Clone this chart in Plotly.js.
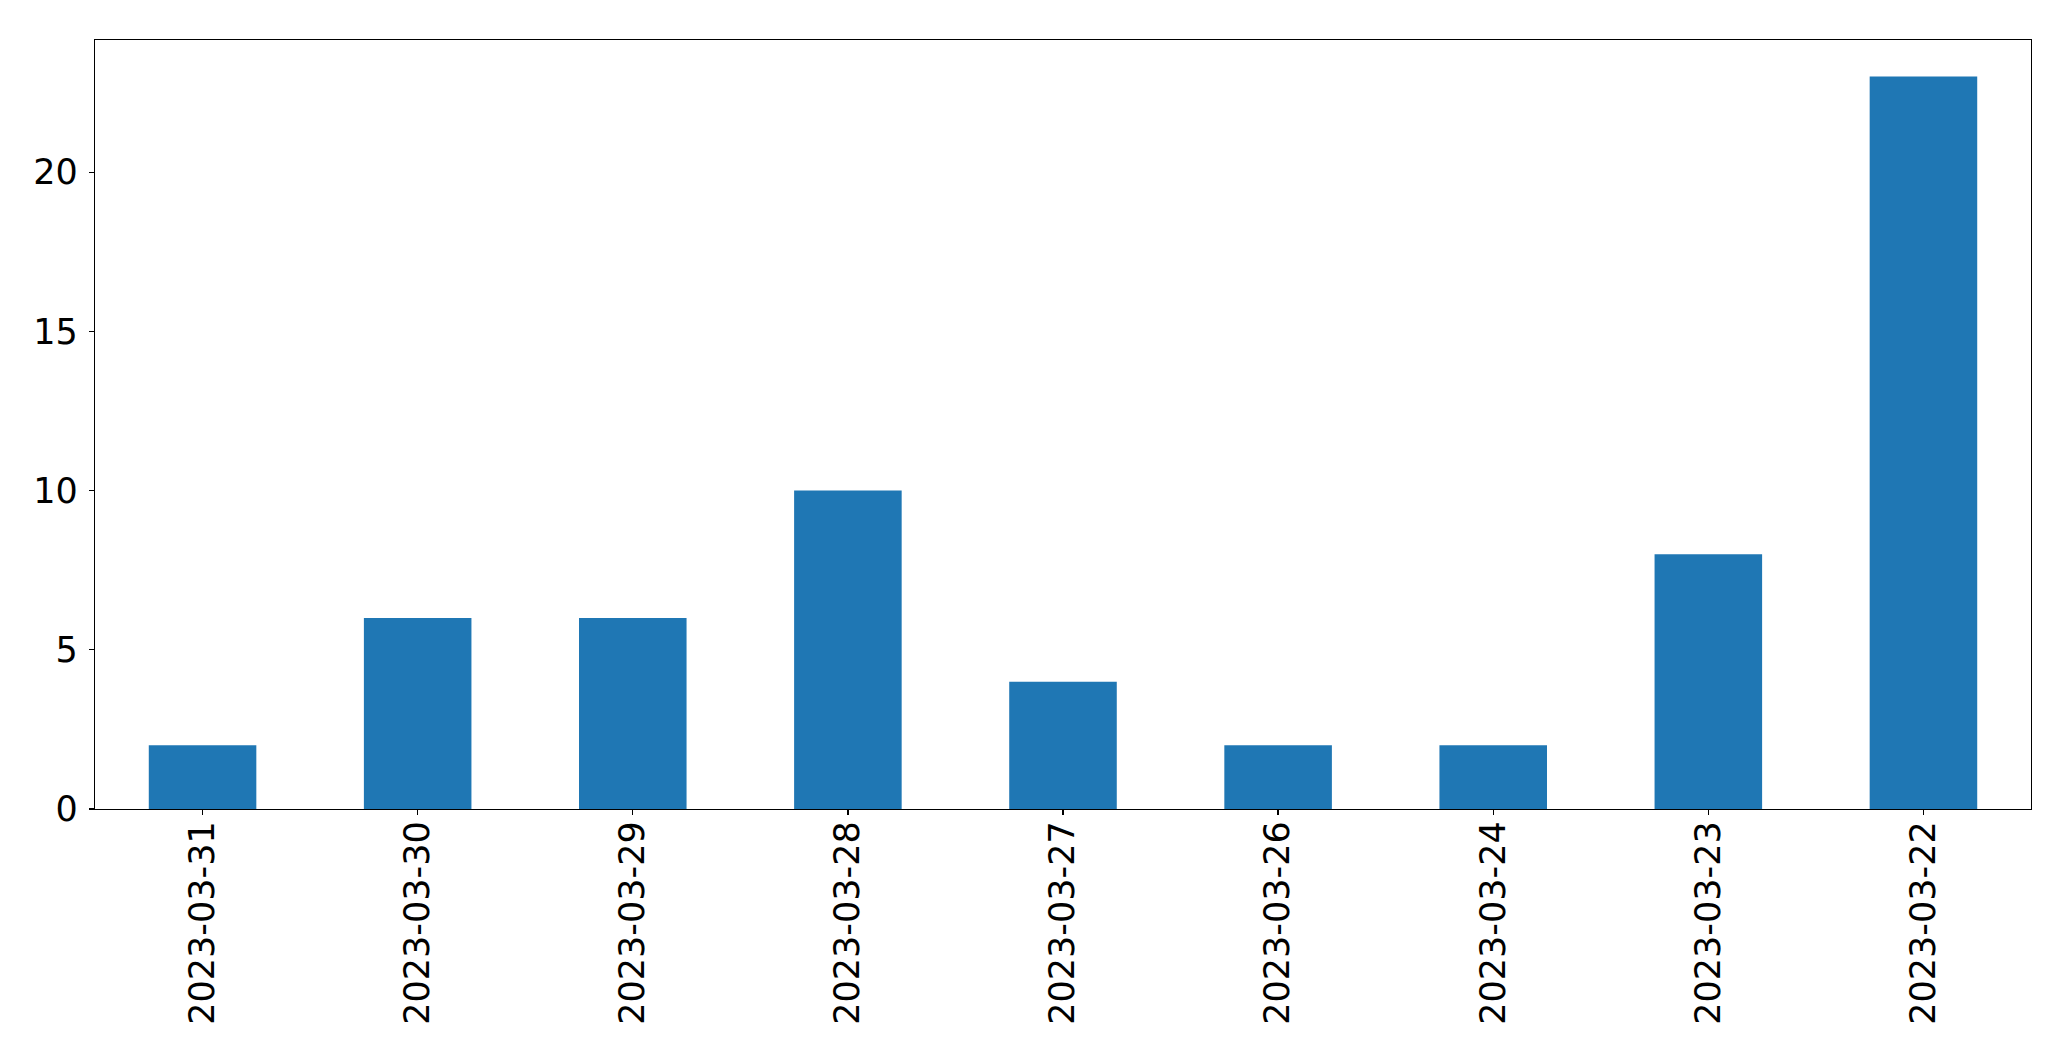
<!DOCTYPE html>
<html>
<head>
<meta charset="utf-8">
<script src="https://cdn.plot.ly/plotly-3.0.1.min.js"></script>
<style>html,body{margin:0;padding:0;background:#fff;}#chart{width:2071px;height:1061px;}</style>
</head>
<body>
<div id="chart"></div>
<script>
const categories = ["2023-03-31","2023-03-30","2023-03-29","2023-03-28","2023-03-27","2023-03-26","2023-03-24","2023-03-23","2023-03-22"];
const counts = [2, 6, 6, 10, 4, 2, 2, 8, 23];
const yTicks = [0, 5, 10, 15, 20];

const trace = {
  type: 'bar',
  x: categories,
  y: counts,
  width: 0.5,
  marker: {color: '#1f77b4', line: {width: 0}},
  hoverinfo: 'x+y'
};

const axisFont = {family: 'DejaVu Sans, sans-serif', size: 35, color: '#000'};

const layout = {
  width: 2071,
  height: 1061,
  paper_bgcolor: '#fff',
  plot_bgcolor: '#fff',
  margin: {l: 94.5, r: 40, t: 39.5, b: 252, pad: 0},
  showlegend: false,
  font: axisFont,
  xaxis: {
    type: 'category',
    range: [-0.5, 8.5],
    tickangle: -90,
    ticks: 'outside',
    ticklen: 5,
    tickwidth: 1.3,
    tickcolor: '#000',
    showline: true,
    linecolor: '#000',
    linewidth: 1.3,
    mirror: true,
    showgrid: false,
    zeroline: false,
    tickfont: axisFont,
    ticklabelstandoff: -8
  },
  yaxis: {
    range: [0, 24.15],
    tickvals: yTicks,
    ticktext: yTicks.map(String),
    ticks: 'outside',
    ticklen: 5,
    tickwidth: 1.3,
    tickcolor: '#000',
    showline: true,
    linecolor: '#000',
    linewidth: 1.3,
    mirror: true,
    showgrid: false,
    zeroline: false,
    tickfont: axisFont,
    ticklabelstandoff: 4
  }
};

Plotly.newPlot('chart', [trace], layout, {displayModeBar: false, staticPlot: true});
</script>
</body>
</html>
